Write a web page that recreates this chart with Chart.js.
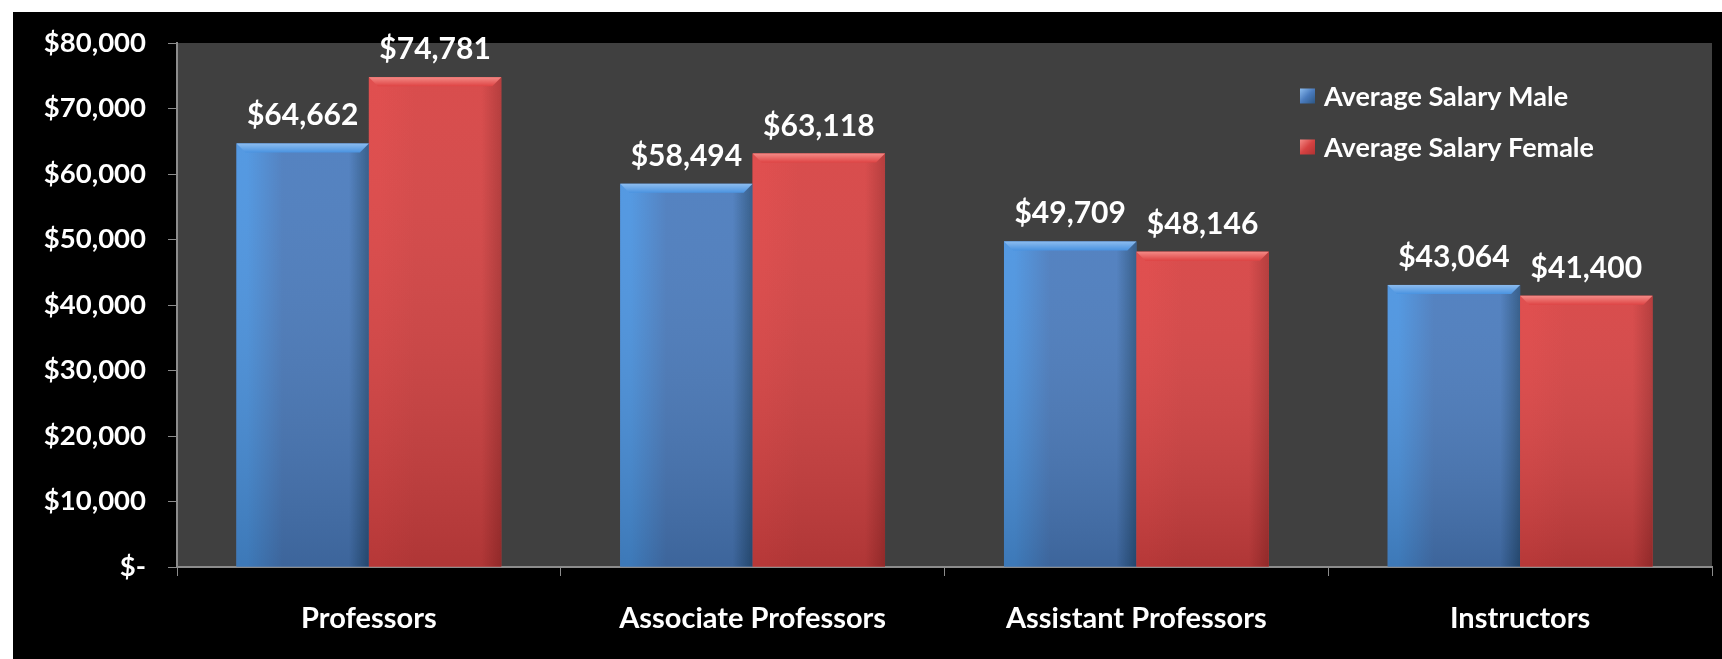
<!DOCTYPE html>
<html>
<head>
<meta charset="utf-8">
<title>Average Salary by Rank</title>
<script src="https://cdn.jsdelivr.net/npm/chart.js@4/dist/chart.umd.min.js"></script>
<style>
  html, body { margin: 0; padding: 0; background: #fff; }
  #wrap { position: absolute; left: 13px; top: 12px; width: 1709px; height: 647px; background: #000; }
</style>
</head>
<body>
<div id="wrap"><canvas id="chart"></canvas></div>
<script>
  // ── data ──────────────────────────────────────────────
  const categories = ['Professors', 'Associate Professors', 'Assistant Professors', 'Instructors'];
  const maleSalary = [64662, 58494, 49709, 43064];
  const femaleSalary = [74781, 63118, 48146, 41400];
  const seriesLabels = ['Average Salary Male', 'Average Salary Female'];

  const FONT = 'Lato, "Open Sans", sans-serif';

  function money(v) {
    if (v === 0) return '$-';
    return '$' + v.toLocaleString('en-US');
  }

  // palette for each series
  const shades = [
    { left: '#4a93e0', mid: '#4a7bbd', right: '#2c5684', bevel: '#8cbcef', base: '#4a7bbd' },
    { left: '#de4444', mid: '#d64242', right: '#b13232', bevel: '#f48a86', base: '#d64242' },
  ];

  // plot background
  const plotBg = {
    id: 'plotBg',
    beforeDraw(chart) {
      const { ctx, chartArea: a } = chart;
      ctx.save();
      ctx.fillStyle = '#404040';
      ctx.fillRect(a.left, a.top, a.right - a.left, a.bottom - a.top);
      ctx.restore();
    },
  };

  // shaded "3D" bar faces drawn over the bars the library placed
  const barShade = {
    id: 'barShade',
    afterDatasetsDraw(chart) {
      const ctx = chart.ctx;
      chart.data.datasets.forEach((ds, di) => {
        const s = shades[di];
        chart.getDatasetMeta(di).data.forEach(bar => {
          const { x, y, base, width } = bar.getProps(['x', 'y', 'base', 'width'], true);
          const l = x - width / 2, r = x + width / 2, h = base - y;
          ctx.save();
          const g = ctx.createLinearGradient(l, 0, r, 0);
          g.addColorStop(0, s.left);
          g.addColorStop(0.08, s.left);
          g.addColorStop(0.35, s.mid);
          g.addColorStop(0.85, s.mid);
          g.addColorStop(1, s.right);
          ctx.fillStyle = g;
          ctx.fillRect(l, y, width, h);
          // vertical darkening toward base
          const v = ctx.createLinearGradient(0, y, 0, base);
          v.addColorStop(0, 'rgba(255,255,255,0.06)');
          v.addColorStop(1, 'rgba(0,0,0,0.18)');
          ctx.fillStyle = v;
          ctx.fillRect(l, y, width, h);
          // top bevel
          const b = 9;
          const tg = ctx.createLinearGradient(0, y, 0, y + b);
          tg.addColorStop(0, s.bevel);
          tg.addColorStop(1, s.left);
          ctx.fillStyle = tg;
          ctx.beginPath();
          ctx.moveTo(l, y);
          ctx.lineTo(r, y);
          ctx.lineTo(r - b, y + b);
          ctx.lineTo(l + b, y + b);
          ctx.closePath();
          ctx.fill();
          ctx.restore();
        });
      });
    },
  };

  // value labels above bars
  const valueLabels = {
    id: 'valueLabels',
    afterDatasetsDraw(chart) {
      const ctx = chart.ctx;
      ctx.save();
      ctx.font = 'bold 30px ' + FONT;
      ctx.fillStyle = '#ffffff';
      ctx.textAlign = 'center';
      ctx.textBaseline = 'alphabetic';
      chart.data.datasets.forEach((ds, di) => {
        chart.getDatasetMeta(di).data.forEach((bar, i) => {
          ctx.fillText(money(ds.data[i]), bar.x, bar.y - 18);
        });
      });
      ctx.restore();
    },
  };

  // legend inside the plot, top right
  const insideLegend = {
    id: 'insideLegend',
    afterDraw(chart) {
      const ctx = chart.ctx;
      const x0 = 1287, y0 = 84, gap = 51, sq = 15;
      ctx.save();
      ctx.font = 'bold 27px ' + FONT;
      ctx.textBaseline = 'middle';
      chart.data.datasets.forEach((ds, di) => {
        const s = shades[di];
        const y = y0 + di * gap;
        const g = ctx.createLinearGradient(x0, y - sq / 2, x0 + sq, y + sq / 2);
        g.addColorStop(0, s.bevel);
        g.addColorStop(0.5, s.mid);
        g.addColorStop(1, s.right);
        ctx.fillStyle = g;
        ctx.fillRect(x0, y - sq / 2, sq, sq);
        ctx.fillStyle = '#ffffff';
        ctx.fillText(ds.label, x0 + 24, y + 1);
      });
      ctx.restore();
    },
  };

  new Chart(document.getElementById('chart'), {
    type: 'bar',
    data: {
      labels: categories,
      datasets: [
        { label: seriesLabels[0], data: maleSalary, backgroundColor: shades[0].base },
        { label: seriesLabels[1], data: femaleSalary, backgroundColor: shades[1].base },
      ],
    },
    options: {
      responsive: true,
      maintainAspectRatio: false,
      animation: false,
      devicePixelRatio: 1,
      layout: { padding: { top: 31, right: 10, left: 0, bottom: 0 } },
      categoryPercentage: 0.69,
      barPercentage: 1.0,
      plugins: { legend: { display: false }, tooltip: { enabled: false } },
      scales: {
        x: {
          grid: { display: true, drawOnChartArea: false, drawTicks: true, tickLength: 9, color: '#8c8c8c', offset: true },
          border: { display: true, color: '#8c8c8c', width: 2 },
          ticks: { color: '#ffffff', font: { family: FONT, size: 29, weight: 'bold' }, padding: 25, maxRotation: 0 },
          afterFit(scale) { scale.height = 92; },
        },
        y: {
          min: 0,
          max: 80000,
          grid: { display: true, drawOnChartArea: false, drawTicks: true, tickLength: 9, color: '#8c8c8c' },
          border: { display: true, color: '#8c8c8c', width: 2 },
          ticks: {
            stepSize: 10000,
            color: '#ffffff',
            font: { family: FONT, size: 27.5, weight: 'bold', lineHeight: 0.5 },
            padding: 22,
            callback: v => money(v),
          },
          afterFit(scale) { scale.width = 164; },
        },
      },
    },
    plugins: [plotBg, barShade, valueLabels, insideLegend],
  });
</script>
</body>
</html>
